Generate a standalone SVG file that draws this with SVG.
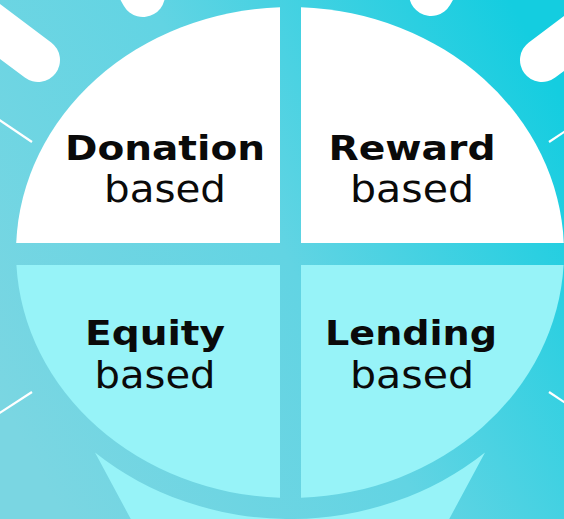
<svg xmlns="http://www.w3.org/2000/svg" width="564" height="519" viewBox="0 0 564 519">
<defs>
<linearGradient id="bg" gradientUnits="userSpaceOnUse" x1="0" y1="400" x2="564" y2="100">
<stop offset="0" stop-color="#7ad6e2"/>
<stop offset="0.5" stop-color="#62d4e3"/>
<stop offset="1" stop-color="#14cde0"/>
</linearGradient>
<style>
.ray{stroke:#ffffff;stroke-width:44;stroke-linecap:round;fill:none}
.thin{stroke:#ffffff;stroke-width:2.2;fill:none}
.top{fill:#ffffff}
.bot{fill:#97f3f8}
.t1{font-family:"DejaVu Sans","Open Sans",sans-serif;font-weight:700;font-size:34px;fill:#0a0a0a;text-anchor:middle}
.t2{font-family:"DejaVu Sans","Open Sans",sans-serif;font-weight:400;font-size:38px;fill:#0a0a0a;text-anchor:middle}
</style>
</defs>
<rect width="564" height="519" fill="url(#bg)"/>
<g id="rays">
<line class="ray" x1="38" y1="60" x2="-42" y2="0"/>
<line class="ray" x1="143" y1="-5" x2="100" y2="-80"/>
<line class="ray" x1="431" y1="-6" x2="474" y2="-80"/>
<line class="ray" x1="542" y1="60" x2="622" y2="0"/>
<line class="thin" x1="-2" y1="119" x2="32" y2="142"/>
<line class="thin" x1="-2" y1="414" x2="32" y2="392"/>
<line class="thin" x1="549" y1="142" x2="582" y2="120"/>
<line class="thin" x1="549" y1="392" x2="582" y2="414"/>
</g>
<g id="neck">
<path class="bot" d="M95,452.5 A295,266.5 0 0 0 485,452.5 L446,525 L134,525 Z"/>
</g>
<g id="donation">
<path class="top" d="M280,243 L280,7.2 A274,245.5 0 0 0 16.2,243 Z"/>
<text class="t1" x="165" y="160" textLength="200" lengthAdjust="spacingAndGlyphs">Donation</text>
<text class="t2" x="165" y="202" textLength="122" lengthAdjust="spacingAndGlyphs">based</text>
</g>
<g id="reward">
<path class="top" d="M301,243 L301,7.2 A274,245.5 0 0 1 563.8,243 Z"/>
<text class="t1" x="412" y="160" textLength="167" lengthAdjust="spacingAndGlyphs">Reward</text>
<text class="t2" x="412" y="202" textLength="124" lengthAdjust="spacingAndGlyphs">based</text>
</g>
<g id="equity">
<path class="bot" d="M280,265 L16.4,265 A274,245.5 0 0 0 280,497.8 Z"/>
<text class="t1" x="155" y="345" textLength="140" lengthAdjust="spacingAndGlyphs">Equity</text>
<text class="t2" x="155" y="388" textLength="121" lengthAdjust="spacingAndGlyphs">based</text>
</g>
<g id="lending">
<path class="bot" d="M301,265 L563.6,265 A274,245.5 0 0 1 301,497.8 Z"/>
<text class="t1" x="411" y="345" textLength="172" lengthAdjust="spacingAndGlyphs">Lending</text>
<text class="t2" x="412" y="388" textLength="124" lengthAdjust="spacingAndGlyphs">based</text>
</g>
<g id="connectors"/>
</svg>
